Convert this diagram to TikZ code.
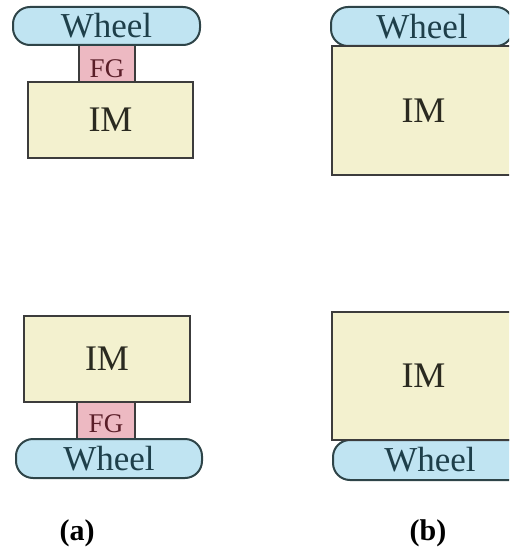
\documentclass[tikz,border=0pt]{standalone}
\usepackage{fontspec}
\setmainfont{Liberation Serif}
\begin{document}
\begin{tikzpicture}[x=1pt,y=-1pt,
  wheelbox/.style={draw=wheelline,fill=wheelfill,line width=2pt,rounded corners=17pt,
    text=wheeltext,inner sep=0pt,font=\fontsize{35}{36}\selectfont},
  fgbox/.style={draw=boxline,fill=fgfill,line width=2pt,inner sep=0pt},
  fglabel/.style={text=fgtext,inner sep=0pt,font=\fontsize{27}{28}\selectfont},
  imbox/.style={draw=boxline,fill=imfill,line width=2pt,text=imtext,inner sep=0pt,
    font=\fontsize{36}{38}\selectfont},
  caption/.style={font=\fontsize{30}{32}\selectfont\bfseries,inner sep=0pt}]
\definecolor{wheelfill}{HTML}{C0E4F2}
\definecolor{wheelline}{HTML}{2E4448}
\definecolor{wheeltext}{HTML}{1E3F4A}
\definecolor{fgfill}{HTML}{EDB9C2}
\definecolor{fgtext}{HTML}{5A1E28}
\definecolor{imfill}{HTML}{F3F1CF}
\definecolor{imtext}{HTML}{2A2A20}
\definecolor{boxline}{HTML}{3C3C3C}
\useasboundingbox (0,0) rectangle (509,551);
\clip (0,0) rectangle (509,551);

% (a) upper: wheel on top, gear, machine below
\node[fgbox,minimum width=56pt,minimum height=40pt] (fgA1) at (107,63.5) {};
\node[fglabel] (fgA1t) at (107,69) {FG};
\node[wheelbox,minimum width=187pt,minimum height=38pt] (wheelA1) at (106.5,26) {Wheel};
\node[imbox,minimum width=165pt,minimum height=76pt] (imA1) at (110.5,120) {IM};

% (a) lower: machine on top, gear, wheel below
\node[fgbox,minimum width=58pt,minimum height=40pt] (fgA2) at (106,420.5) {};
\node[fglabel] (fgA2t) at (106,424) {FG};
\node[imbox,minimum width=166pt,minimum height=86pt] (imA2) at (107,359) {IM};
\node[wheelbox,minimum width=186pt,minimum height=39pt] (wheelA2) at (109,458.5) {Wheel};

% (b) upper: wheel directly on machine
\node[wheelbox,minimum width=182pt,minimum height=39pt] (wheelB1) at (422,26.5) {Wheel};
\node[imbox,minimum width=183pt,minimum height=129pt] (imB1) at (423.5,110.5) {IM};

% (b) lower: machine directly on wheel
\node[wheelbox,minimum width=194pt,minimum height=40pt] (wheelB2) at (430,460) {Wheel};
\node[imbox,minimum width=183pt,minimum height=128pt] (imB2) at (423.5,376) {IM};

% captions
\node[caption] (capA) at (77,533) {(a)};
\node[caption] (capB) at (428,533) {(b)};
\end{tikzpicture}
\end{document}
